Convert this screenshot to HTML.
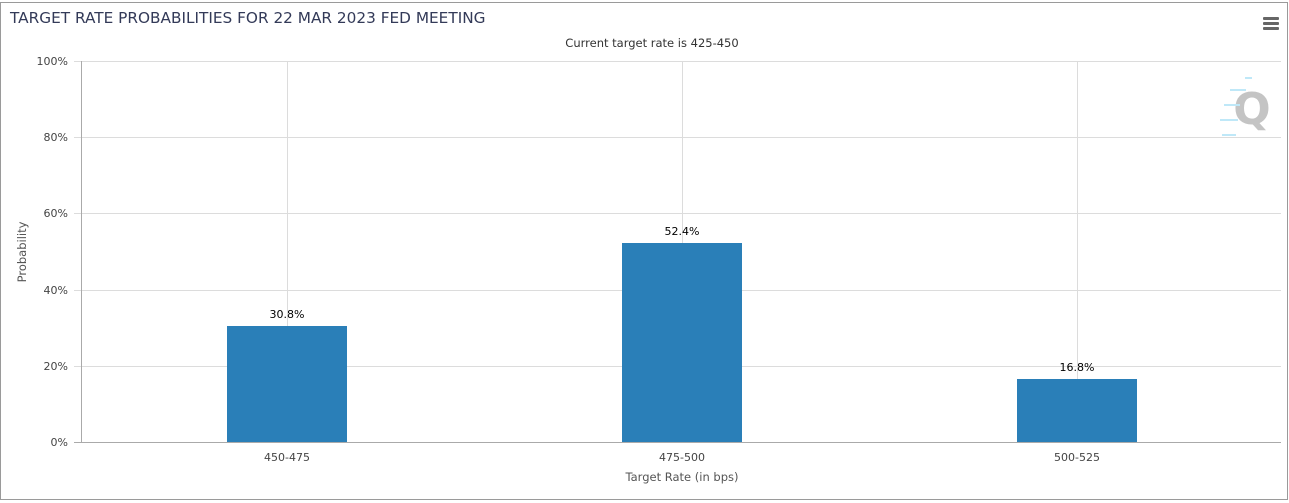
<!DOCTYPE html>
<html><head><meta charset="utf-8"><style>
body{margin:0;background:#fff;}
svg{display:block;font-family:"DejaVu Sans","Liberation Sans",sans-serif;}
</style></head><body>
<svg width="1289" height="503" viewBox="0 0 1289 503" xmlns="http://www.w3.org/2000/svg">
<rect x="0.5" y="2.5" width="1287" height="497" fill="#fff" stroke="#9a9a9a"/>
<text x="10" y="23" font-size="15.3" fill="#333a58">TARGET RATE PROBABILITIES FOR 22 MAR 2023 FED MEETING</text>
<text x="652" y="47" font-size="11.5" fill="#333" text-anchor="middle">Current target rate is 425-450</text>
<g fill="#666"><rect x="1263" y="17" width="16" height="3" rx="1"/><rect x="1263" y="22" width="16" height="3" rx="1"/><rect x="1263" y="27" width="16" height="3" rx="1"/></g>
<g stroke="#dcdcdc" stroke-width="1">
<line x1="74" y1="61.5" x2="1281" y2="61.5"/>
<line x1="74" y1="137.5" x2="1281" y2="137.5"/>
<line x1="74" y1="213.5" x2="1281" y2="213.5"/>
<line x1="74" y1="290.5" x2="1281" y2="290.5"/>
<line x1="74" y1="366.5" x2="1281" y2="366.5"/>
<line x1="287.5" y1="61" x2="287.5" y2="442"/>
<line x1="682.5" y1="61" x2="682.5" y2="442"/>
<line x1="1077.5" y1="61" x2="1077.5" y2="442"/>
</g>
<line x1="81.5" y1="61" x2="81.5" y2="442" stroke="#aaa"/>
<line x1="74" y1="442.5" x2="1281" y2="442.5" stroke="#aaa"/>
<text x="1252" y="124" font-size="44" font-weight="bold" fill="#c4c4c4" text-anchor="middle">Q</text>
<g stroke="#bfe8f8" stroke-width="2"><line x1="1222" y1="135" x2="1236" y2="135"/><line x1="1220" y1="120" x2="1238" y2="120"/><line x1="1224" y1="105" x2="1240" y2="105"/><line x1="1230" y1="90" x2="1246" y2="90"/><line x1="1245" y1="78" x2="1252" y2="78"/></g>
<g font-size="11" fill="#444" text-anchor="end">
<text x="68" y="65">100%</text><text x="68" y="141">80%</text><text x="68" y="217">60%</text><text x="68" y="294">40%</text><text x="68" y="370">20%</text><text x="68" y="446">0%</text>
</g>
<text transform="translate(26,252) rotate(-90)" font-size="11.5" fill="#555" text-anchor="middle">Probability</text>
<g fill="#2a7fb8">
<rect x="227" y="326" width="120" height="116"/>
<rect x="622" y="243" width="120" height="199"/>
<rect x="1017" y="379" width="120" height="63"/>
</g>
<g font-size="11" fill="#000" text-anchor="middle">
<text x="287" y="318">30.8%</text><text x="682" y="235">52.4%</text><text x="1077" y="371">16.8%</text>
</g>
<g font-size="11" fill="#444" text-anchor="middle">
<text x="287" y="461">450-475</text><text x="682" y="461">475-500</text><text x="1077" y="461">500-525</text>
</g>
<text x="682" y="481" font-size="11.5" fill="#555" text-anchor="middle">Target Rate (in bps)</text>
</svg>
</body></html>
